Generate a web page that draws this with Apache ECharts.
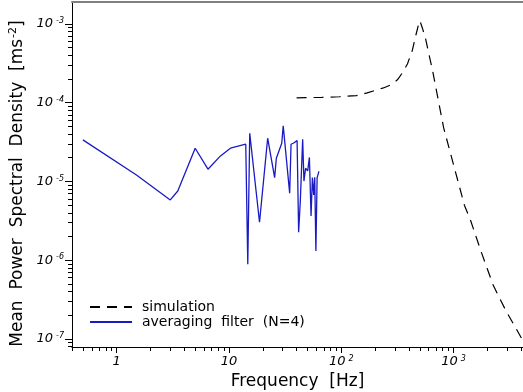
<!DOCTYPE html>
<html>
<head>
<meta charset="utf-8">
<script src="https://cdn.jsdelivr.net/npm/echarts@6/dist/echarts.min.js"></script>
<style>
html, body { margin: 0; padding: 0; background: #fff; }
#chart { width: 523px; height: 392px; }
</style>
</head>
<body>
<div id="chart"></div>
<script>
// simulation (dashed black)
var simFreq = [40, 48, 67, 96, 136, 170, 193, 237, 274, 316, 350, 388, 430, 457, 486, 501,
    527, 561, 597, 648, 816, 1248, 1412, 1759, 1987, 2249, 2571, 2951, 3388, 4074];
var simPsd = [1.15e-4, 1.16e-4, 1.17e-4, 1.19e-4, 1.23e-4, 1.33e-4, 1.41e-4, 1.54e-4, 1.68e-4, 1.95e-4,
    2.39e-4, 3.1e-4, 4.67e-4, 6.84e-4, 9.7e-4, 1.1e-3, 8.9e-4, 6.64e-4, 4.41e-4, 2.61e-4,
    4.78e-5, 5.0e-6, 3.24e-6, 1.28e-6, 7.9e-7, 4.85e-7, 3.29e-7, 2.22e-7, 1.58e-7, 9.9e-8];

// averaging filter N=4 (blue)
var avgFreq = [0.5, 1.5, 3.0, 3.5, 5.0, 6.5, 8.4, 10.3, 14.1, 14.7, 15.3, 18.7, 22.1, 25.5, 26.4, 29.5,
    30.4, 34.7, 35.7, 37.7, 40.4, 41.7, 43.2, 44.6, 45.3, 46.5, 48.1, 50.2, 52.0, 53.8, 55.3, 56.8,
    58.0, 59.4, 60.9, 63.2];
var avgPsd = [3.37e-5, 1.21e-5, 5.82e-6, 7.57e-6, 2.64e-5, 1.43e-5, 2.11e-5, 2.64e-5, 2.97e-5, 8.9e-7,
    4.09e-5, 3.03e-6, 3.54e-5, 1.12e-5, 1.97e-5, 3.05e-5, 5.07e-5, 7.08e-6, 2.97e-5, 3.08e-5,
    3.3e-5, 2.26e-6, 5.82e-6, 5.5e-6, 3.44e-5, 1.01e-5, 1.47e-5, 1.36e-5, 2.02e-5, 3.65e-6,
    1.12e-5, 6.74e-6, 1.13e-5, 1.31e-6, 1.11e-5, 1.34e-5];

// tick labels
var xMajor = [1, 10, 100, 1000];
var yMajor = [1e-7, 1e-6, 1e-5, 1e-4, 1e-3];

function minorTicks(fromExp, toExp) {
    var out = [];
    for (var e = fromExp; e <= toExp; e++) {
        for (var k = 2; k <= 9; k++) out.push(k * Math.pow(10, e));
    }
    return out;
}
var xMinor = minorTicks(-1, 3);
var yMinor = minorTicks(-8, -3);

var xMin = 0.4, xMax = 4150;
var yMin = 7.9e-8, yMax = 1.9e-3;

var font = 'DejaVu Sans';
var labelRich = {
    b: { fontSize: 13, fontStyle: 'italic', fontFamily: font, color: '#000' },
    s: { fontSize: 8, fontStyle: 'italic', fontFamily: font, color: '#000', verticalAlign: 'top', padding: [0, 0, 6, 3] }
};

function xLabel(v) {
    var e = Math.round(Math.log10(v));
    if (e <= 1) return '{b|' + Math.round(v) + '}';
    return '{b|10}{s|' + e + '}';
}
function yLabel(v) {
    var e = Math.round(Math.log10(v));
    return '{b|10}{s|' + e + '}';
}

var chart = echarts.init(document.getElementById('chart'));
chart.setOption({
    backgroundColor: '#fff',
    animation: false,
    grid: { left: 72, right: 0, top: 2, bottom: 45, containLabel: false, outerBoundsMode: 'none' },
    legend: {
        left: 89,
        top: 300,
        padding: 0,
        orient: 'vertical',
        itemWidth: 42,
        itemHeight: 14,
        itemGap: 1,
        itemStyle: { opacity: 0 },
        textStyle: { fontFamily: font, fontSize: 14, color: '#000', padding: [0, 0, 0, 5] },
        data: ['simulation', 'averaging  filter  (N=4)']
    },
    xAxis: [{
        type: 'log', min: xMin, max: xMax, position: 'bottom',
        axisLine: { show: true, onZero: false, lineStyle: { color: '#000', width: 1 } },
        axisTick: { show: true, length: 6, customValues: xMajor, lineStyle: { color: '#000', width: 1 } },
        axisLabel: { show: true, customValues: xMajor, formatter: xLabel, rich: labelRich, margin: 8 },
        splitLine: { show: false },
        name: 'Frequency  [Hz]',
        nameLocation: 'middle',
        nameGap: 17,
        nameTextStyle: { fontFamily: font, fontSize: 17, color: '#000' }
    }, {
        type: 'log', min: xMin, max: xMax, position: 'bottom',
        axisLine: { show: false, onZero: false },
        axisTick: { show: true, length: 4, customValues: xMinor, lineStyle: { color: '#000', width: 1 } },
        axisLabel: { show: false },
        splitLine: { show: false }
    }, {
        type: 'log', min: xMin, max: xMax, position: 'top',
        axisLine: { show: true, onZero: false, lineStyle: { color: '#808080', width: 2 } },
        axisTick: { show: false },
        axisLabel: { show: false },
        splitLine: { show: false }
    }],
    yAxis: [{
        type: 'log', min: yMin, max: yMax, position: 'left',
        axisLine: { show: true, onZero: false, lineStyle: { color: '#000', width: 1 } },
        axisTick: { show: true, length: 7, customValues: yMajor, lineStyle: { color: '#000', width: 1 } },
        axisLabel: { show: true, customValues: yMajor, formatter: yLabel, rich: labelRich, margin: 8 },
        splitLine: { show: false },
        name: 'Mean  Power  Spectral  Density  [ms{s|-2}]',
        nameLocation: 'middle',
        nameRotate: 90,
        nameGap: 40,
        nameTextStyle: {
            fontFamily: font, fontSize: 17, color: '#000', padding: [0, 18, 0, 0],
            rich: { s: { fontFamily: font, fontSize: 11, color: '#000', verticalAlign: 'top', padding: [0, 0, 8, 1] } }
        }
    }, {
        type: 'log', min: yMin, max: yMax, position: 'left',
        axisLine: { show: false, onZero: false },
        axisTick: { show: true, length: 4, customValues: yMinor, lineStyle: { color: '#000', width: 1 } },
        axisLabel: { show: false },
        splitLine: { show: false }
    }],
    series: [{
        name: 'simulation',
        type: 'line',
        xAxisIndex: 0, yAxisIndex: 0,
        symbol: 'none',
        data: simFreq.map(function (f, i) { return [f, simPsd[i]]; }),
        lineStyle: { color: '#000', width: 1.2, type: [10, 7] },
        itemStyle: { color: '#000' }
    }, {
        name: 'averaging  filter  (N=4)',
        type: 'line',
        xAxisIndex: 0, yAxisIndex: 0,
        symbol: 'none',
        data: avgFreq.map(function (f, i) { return [f, avgPsd[i]]; }),
        lineStyle: { color: '#1a1ac4', width: 1.3 },
        itemStyle: { color: '#1a1ac4' }
    }]
});
</script>
</body>
</html>
